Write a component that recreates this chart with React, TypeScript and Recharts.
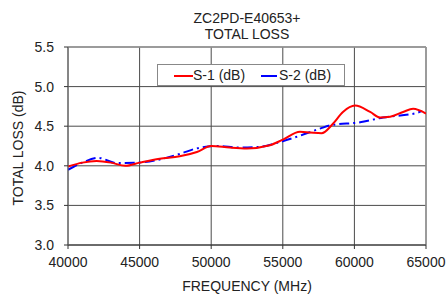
import { LineChart, Line, XAxis, YAxis, CartesianGrid, ReferenceLine } from "recharts";

const FONT = '"Liberation Sans", Arial, sans-serif';

// S-1 (dB)
const s1Freq = [40000, 41000, 42000, 43000, 44000, 45000, 46400, 47800, 49000, 50000, 51300, 52500, 54100, 55000, 56200, 56900, 57700, 58500, 59200, 60050, 61100, 61800, 62500, 63400, 64100, 65000];
const s1Loss = [3.99, 4.04, 4.06, 4.04, 4.0, 4.04, 4.09, 4.12, 4.175, 4.25, 4.23, 4.22, 4.26, 4.33, 4.43, 4.42, 4.41, 4.53, 4.68, 4.76, 4.68, 4.61, 4.62, 4.68, 4.72, 4.66];

// S-2 (dB)
const s2Freq = [40000, 41000, 42100, 43400, 44900, 46400, 47800, 49000, 50400, 52000, 53400, 54800, 56200, 57600, 58300, 60400, 62000, 64400, 64700];
const s2Loss = [3.95, 4.04, 4.1, 4.035, 4.04, 4.08, 4.15, 4.22, 4.25, 4.23, 4.24, 4.3, 4.38, 4.47, 4.51, 4.55, 4.61, 4.67, 4.69];

const xTicks = [40000, 45000, 50000, 55000, 60000, 65000];
const yTicks = [3.0, 3.5, 4.0, 4.5, 5.0, 5.5];

const s1Data = s1Freq.map((f, i) => ({ freq: f, loss: s1Loss[i] }));
const s2Data = s2Freq.map((f, i) => ({ freq: f, loss: s2Loss[i] }));

const tickStyle = { fontSize: 14, fill: "#222", fontFamily: FONT };

const YLabel = (props: any) => {
  const vb = props.viewBox || { x: 0, y: 0, width: 0, height: 0 };
  const cx = 18;
  const cy = vb.y + vb.height / 2 + 2;
  return (
    <text
      x={cx}
      y={cy}
      transform={`rotate(-90, ${cx}, ${cy})`}
      textAnchor="middle"
      dominantBaseline="central"
      fontSize={14}
      fontFamily={FONT}
      fill="#222"
    >
      TOTAL LOSS (dB)
    </text>
  );
};

export default function App() {
  return (
    <div style={{ position: "absolute", left: 0, top: 0, width: 448, height: 294, background: "#fff", fontFamily: FONT }}>
      <div style={{ position: "absolute", left: 147, width: 200, top: 10, textAlign: "center", fontSize: 14, lineHeight: "16px", color: "#222" }}>
        <div>ZC2PD-E40653+</div>
        <div>TOTAL LOSS</div>
      </div>
      <LineChart width={448} height={294} margin={{ top: 47, right: 22, left: 0, bottom: 19 }}>
        <CartesianGrid stroke="#4a4a4a" strokeWidth={1} />
        <XAxis
          type="number"
          dataKey="freq"
          domain={[40000, 65000]}
          ticks={xTicks}
          allowDataOverflow
          height={30}
          tick={tickStyle}
          tickSize={4}
          tickMargin={8}
          axisLine={{ stroke: "#333" }}
          tickLine={{ stroke: "#333" }}
          label={{ value: "FREQUENCY (MHz)", position: "bottom", offset: 6, style: { fontSize: 14, fill: "#222", fontFamily: FONT } }}
        />
        <YAxis
          type="number"
          dataKey="loss"
          domain={[3.0, 5.5]}
          ticks={yTicks}
          allowDataOverflow
          width={68}
          tick={tickStyle}
          tickSize={4}
          tickMargin={10}
          tickFormatter={(v: number) => v.toFixed(1)}
          axisLine={{ stroke: "#666" }}
          tickLine={{ stroke: "#333" }}
          label={<YLabel />}
        />
        <ReferenceLine y={5.5} stroke="#999" strokeWidth={1.5} />
        <ReferenceLine x={65000} stroke="#999" strokeWidth={1.5} />
        <Line
          data={s2Data}
          dataKey="loss"
          type="monotone"
          stroke="#0000ff"
          strokeWidth={2}
          strokeDasharray="10 4 2 4"
          dot={false}
          isAnimationActive={false}
          name="S-2 (dB)"
        />
        <Line
          data={s1Data}
          dataKey="loss"
          type="monotone"
          stroke="#ff0000"
          strokeWidth={2}
          dot={false}
          isAnimationActive={false}
          name="S-1 (dB)"
        />
      </LineChart>
      <div
        style={{
          position: "absolute",
          left: 157,
          top: 64,
          width: 186,
          height: 20,
          border: "1px solid #888",
          background: "#fff",
          fontSize: 14,
          color: "#222",
          boxSizing: "content-box",
        }}
      >
        <div style={{ position: "absolute", left: 16, top: 10, width: 19, height: 2, background: "#ff0000" }} />
        <div style={{ position: "absolute", left: 35, top: 1, lineHeight: "18px" }}>S-1 (dB)</div>
        <div style={{ position: "absolute", left: 103, top: 10, width: 16, height: 2, background: "#0000ff" }} />
        <div style={{ position: "absolute", left: 121, top: 1, lineHeight: "18px" }}>S-2 (dB)</div>
      </div>
    </div>
  );
}
